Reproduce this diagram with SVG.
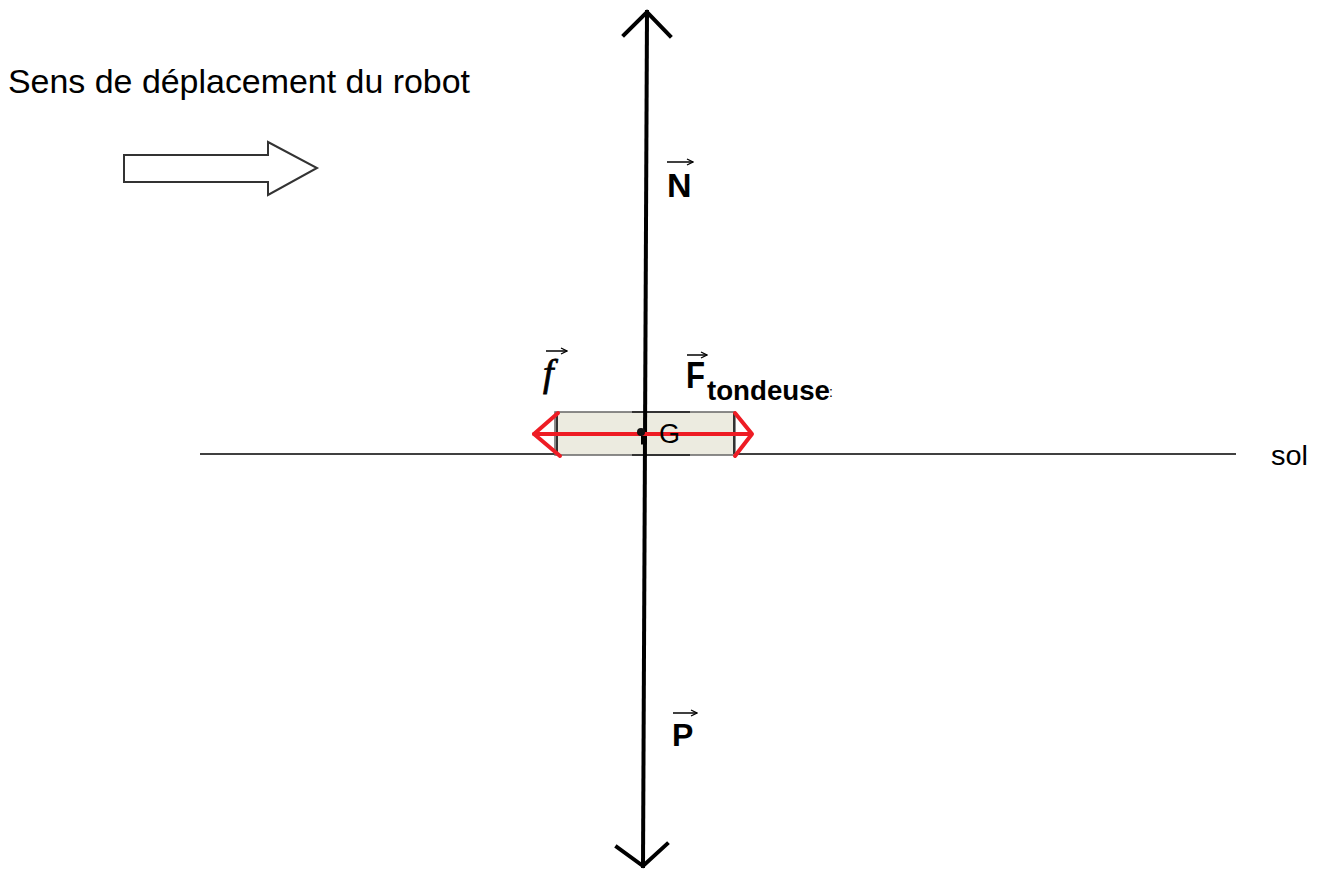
<svg xmlns="http://www.w3.org/2000/svg" width="1325" height="870" viewBox="0 0 1325 870">
<style>
.lbl{font-family:"Liberation Sans",Arial,sans-serif;fill:#000}
.b{font-weight:bold}
.vec{stroke:#000;stroke-width:1.5;fill:none}
.force{stroke:#000;stroke-width:4;fill:none;stroke-linecap:square}
.red{stroke:#ee1c24;stroke-width:4;fill:none;stroke-linecap:round;stroke-linejoin:round}
</style>
<defs>
<marker id="vh" markerWidth="8" markerHeight="8" refX="7" refY="4" orient="auto" markerUnits="userSpaceOnUse">
<path d="M1,1 L7,4 L1,7" fill="none" stroke="#000" stroke-width="1.3"/>
</marker>
</defs>
<rect width="1325" height="870" fill="#fff"/>

<g id="title">
<text class="lbl" x="8" y="93" font-size="33" textLength="462" lengthAdjust="spacingAndGlyphs" fill="#222">Sens de déplacement du robot</text>
</g>
<g id="direction-arrow">
<polygon points="124,155 268,155 268,142 317,168 268,195 268,182 124,182" fill="#fff" stroke="#333" stroke-width="2"/>
</g>

<g id="ground">
<line x1="200" y1="454" x2="1236" y2="454" stroke="#000" stroke-width="1.5"/>
<text class="lbl" x="1271" y="465" font-size="27" font-family="Open Sans" textLength="37" lengthAdjust="spacingAndGlyphs">sol</text>
</g>

<g id="robot">
<rect x="555" y="412" width="180" height="43" fill="#ecebe0" stroke="#666" stroke-width="1.5"/>
<line x1="632" y1="412" x2="690" y2="412" stroke="#333" stroke-width="2"/>
<line x1="632" y1="455" x2="690" y2="455" stroke="#333" stroke-width="2"/>
<line x1="557" y1="413" x2="557" y2="454" stroke="#333" stroke-width="2"/>
<line x1="734" y1="413" x2="734" y2="454" stroke="#333" stroke-width="2"/>
</g>

<g id="connectors">
<line class="force" x1="647" y1="12" x2="643" y2="866"/>
<polyline class="force" points="624,35 647,12 670,36" stroke-linecap="butt"/>
<polyline class="force" points="617,847 643,866 667,844" stroke-linecap="butt"/>
<line x1="641" y1="440" x2="646" y2="440" stroke="#000" stroke-width="9"/>
<line class="red" x1="534" y1="434" x2="750" y2="434"/>
<polyline class="red" points="558,413 534,434 560,456"/>
<polyline class="red" points="735,413 752,434 735,456"/>
<circle cx="641" cy="432" r="4" fill="#111"/>
</g>

<g id="G">
<text class="lbl" x="659" y="443" font-size="27" fill="#222">G</text>
</g>

<g id="label-N">
<line class="vec" x1="667" y1="162" x2="693" y2="162" marker-end="url(#vh)"/>
<text class="lbl b" x="667" y="197" font-size="34">N</text>
</g>
<g id="label-P">
<line class="vec" x1="673" y1="713" x2="697" y2="713" marker-end="url(#vh)"/>
<text class="lbl b" x="672" y="746" font-size="32">P</text>
</g>
<g id="label-f">
<line class="vec" x1="546" y1="351" x2="567" y2="351" marker-end="url(#vh)"/>
<text x="543" y="386" font-size="38" font-family="Liberation Serif" font-style="italic" stroke="#000" stroke-width="0.8">f</text>
</g>
<g id="label-F">
<line class="vec" x1="687" y1="355" x2="707" y2="355" marker-end="url(#vh)"/>
<text class="lbl b" x="686" y="388" font-size="37" textLength="19" lengthAdjust="spacingAndGlyphs">F</text>
<text class="lbl b" x="707" y="400" font-size="28" textLength="123" lengthAdjust="spacingAndGlyphs">tondeuse</text>
<text class="lbl" x="829" y="397" font-size="14" fill="#d9a070">:</text>
</g>
</svg>
